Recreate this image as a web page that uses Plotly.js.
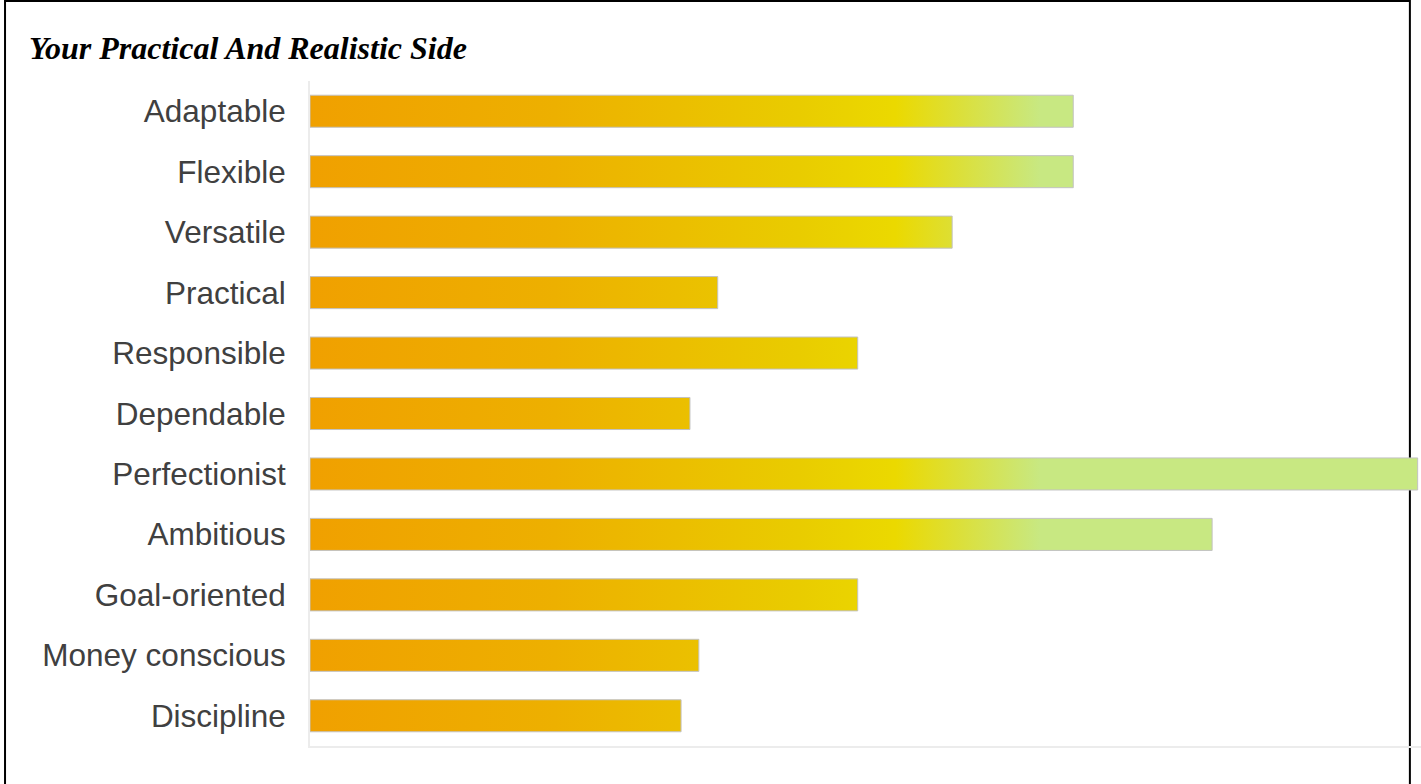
<!DOCTYPE html>
<html>
<head>
<meta charset="utf-8">
<script src="https://cdn.plot.ly/plotly-3.0.1.min.js"></script>
<style>
  html, body { margin: 0; padding: 0; background: #ffffff; }
  #chart { width: 1421px; height: 784px; }
</style>
</head>
<body>
<div id="chart"></div>
<script>
// ---- Data ----
const traits = [
  "Adaptable", "Flexible", "Versatile", "Practical", "Responsible",
  "Dependable", "Perfectionist", "Ambitious", "Goal-oriented",
  "Money conscious", "Discipline"
];
const scores = [68.7, 68.7, 57.8, 36.7, 49.3, 34.2, 99.7, 81.2, 49.3, 35.0, 33.4];
const chartTitle = "Your Practical And Realistic Side";

// gradient colours (left -> right across the value axis)
const gradientStops = [
  { at: 0.0,   color: "#F0A000" },
  { at: 0.22,  color: "#EDB000" },
  { at: 0.44,  color: "#E9CC00" },
  { at: 0.527, color: "#EBD900" },
  { at: 0.657, color: "#C8E882" },
  { at: 1.0,   color: "#C8E882" }
];

const trace = {
  type: "bar",
  orientation: "h",
  y: traits,
  x: scores,
  marker: { color: "#F0A000", line: { color: "#c2c2c2", width: 1 } },
  hoverinfo: "skip"
};

const layout = {
  width: 1421,
  height: 784,
  margin: { l: 310, r: 0, t: 81, b: 38 },
  paper_bgcolor: "#ffffff",
  plot_bgcolor: "rgba(0,0,0,0)",
  showlegend: false,
  bargap: 0.47,
  title: {
    text: "<b><i>" + chartTitle + "</i></b>",
    font: { family: "Liberation Serif, Times New Roman, serif", size: 32, color: "#000000" },
    xref: "container", x: 0.0204, xanchor: "left",
    yref: "container", y: 0.939, yanchor: "middle"
  },
  xaxis: {
    range: [0, 100],
    showgrid: false, zeroline: false, showticklabels: false, ticks: "",
    showline: true, linecolor: "#ececec", linewidth: 2, fixedrange: true
  },
  yaxis: {
    autorange: "reversed",
    showgrid: false, zeroline: false, ticks: "",
    showline: true, linecolor: "#ececec", linewidth: 2,
    ticklabelstandoff: 16,
    tickfont: { family: "Liberation Sans, Arial, sans-serif", size: 31.5, color: "#404040" },
    fixedrange: true
  },
  shapes: [{
    type: "rect", layer: "below",
    xref: "paper", yref: "paper",
    x0: -0.2745, x1: 0.990, y0: -0.2, y1: 1.1203,
    line: { color: "#000000", width: 2 }, fillcolor: "rgba(0,0,0,0)"
  }]
};

Plotly.newPlot("chart", [trace], layout, { displayModeBar: false, staticPlot: true }).then(function (gd) {
  const svg = gd.querySelector("svg.main-svg");
  const NS = "http://www.w3.org/2000/svg";
  let defs = svg.querySelector("defs");
  if (!defs) { defs = document.createElementNS(NS, "defs"); svg.insertBefore(defs, svg.firstChild); }
  const xa = gd._fullLayout.xaxis;
  const grad = document.createElementNS(NS, "linearGradient");
  grad.setAttribute("id", "barGrad");
  grad.setAttribute("gradientUnits", "userSpaceOnUse");
  grad.setAttribute("x1", xa.l2p(xa.range[0]));
  grad.setAttribute("x2", xa.l2p(xa.range[1]));
  grad.setAttribute("y1", 0);
  grad.setAttribute("y2", 0);
  gradientStops.forEach(function (s) {
    const st = document.createElementNS(NS, "stop");
    st.setAttribute("offset", s.at);
    st.setAttribute("stop-color", s.color);
    grad.appendChild(st);
  });
  defs.appendChild(grad);
  gd.querySelectorAll(".bars .point path").forEach(function (p) {
    p.style.fill = "url(#barGrad)";
  });
});
</script>
</body>
</html>
